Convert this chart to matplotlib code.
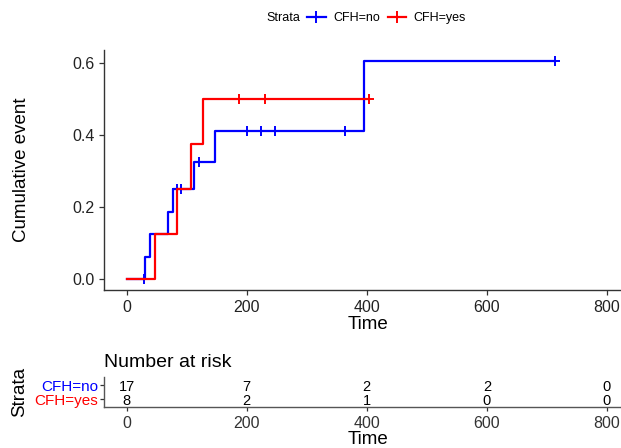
import matplotlib
matplotlib.use("Agg")
import matplotlib.pyplot as plt
import numpy as np

plt.rcParams['font.family'] = ['Liberation Sans', 'DejaVu Sans']

# step curves (time, cumulative event)
time_no = [0, 31, 39, 69, 77, 113, 148, 395, 714]
cum_no = [0, 0.0625, 0.125, 0.1875, 0.25, 0.325, 0.41, 0.606, 0.606]
cens_no = [29, 84, 90, 120, 201, 224, 247, 363, 714]

time_yes = [0, 48, 84, 107, 128, 404]
cum_yes = [0, 0.125, 0.25, 0.375, 0.5, 0.5]
cens_yes = [187, 230, 404]

risk_times = [0, 200, 400, 600, 800]
risk_no = [17, 7, 2, 2, 0]
risk_yes = [8, 2, 1, 0, 0]

col_no = '#0000ff'
col_yes = '#ff0000'
W, H = 621, 448


def at(times, vals, t):
    i = np.searchsorted(times, t, side='right') - 1
    return np.asarray(vals)[i]


fig = plt.figure(figsize=(W/100, H/100), dpi=100)

# main plot
ax = fig.add_axes([104/W, 1-290/H, 528.5/W, 240/H])
for tt, cc, cz, col in [(time_no, cum_no, cens_no, col_no),
                        (time_yes, cum_yes, cens_yes, col_yes)]:
    ax.step(tt, cc, where='post', color=col, lw=1.6)
    ax.plot(cz, at(tt, cc, cz), ls='none', marker='+', ms=7.5, mew=1.4, color=col)

ax.set_xlim(-37.5, 842.5)
ax.set_ylim(-0.03, 0.636)
ax.set_xticks(risk_times)
ax.set_yticks([0, 0.2, 0.4, 0.6])
ax.set_yticklabels(['0.0', '0.2', '0.4', '0.6'])
ax.set_xlabel('Time', fontsize=13.5, labelpad=1)
ax.set_ylabel('Cumulative event', fontsize=13.5, labelpad=30)
for s in ['top', 'right']:
    ax.spines[s].set_visible(False)
for s in ['left', 'bottom']:
    ax.spines[s].set_color('#333333')
    ax.spines[s].set_linewidth(1.0)
ax.tick_params(labelsize=11.5, colors='#333333', length=3.5, width=0.9)
ax.tick_params(labelcolor='#222222')

# legend on top
fig.text(266/W, 1-18/H, 'Strata', fontsize=9, va='center', ha='left')
h1, = ax.plot([], [], color=col_no, lw=1.6, marker='+', ms=9, mew=1.4)
h2, = ax.plot([], [], color=col_yes, lw=1.6, marker='+', ms=9, mew=1.4)
fig.legend([h1, h2], ['CFH=no', 'CFH=yes'], ncol=2, frameon=False,
           fontsize=9, loc='center left', bbox_to_anchor=(307/W, 1-18/H),
           handlelength=1.5, handletextpad=0.6, columnspacing=0.6,
           borderaxespad=0, borderpad=0)

# number at risk table
rx = fig.add_axes([104/W, 1-406.7/H, 528.5/W, 30/H])
rx.set_xlim(-37.5, 842.5)
rx.set_ylim(0.4, 2.6)
row_no, row_yes = 1.97, 0.95
for xt, a, b in zip(risk_times, risk_no, risk_yes):
    rx.text(xt, row_no, str(a), ha='center', va='center_baseline', fontsize=10.5)
    rx.text(xt, row_yes, str(b), ha='center', va='center_baseline', fontsize=10.5)
rx.set_xticks(risk_times)
rx.set_yticks([row_yes, row_no])
rx.set_yticklabels(['CFH=yes', 'CFH=no'])
rx.tick_params(axis='y', labelsize=11, length=3, width=0.9, pad=1, colors='#333333')
rx.tick_params(axis='x', labelsize=11.5, length=3, width=0.9, colors='#333333')
for lab, col in zip(rx.get_yticklabels(), [col_yes, col_no]):
    lab.set_color(col)
for s in ['top', 'right']:
    rx.spines[s].set_visible(False)
for s in ['left', 'bottom']:
    rx.spines[s].set_color('#555555')
    rx.spines[s].set_linewidth(1.0)
rx.set_xlabel('Time', fontsize=13.5, labelpad=0)
rx.set_ylabel('Strata', fontsize=13.5, labelpad=5)
rx.set_title('Number at risk', fontsize=14, loc='left', x=0, pad=7)

fig.savefig('out.png', dpi=100)
